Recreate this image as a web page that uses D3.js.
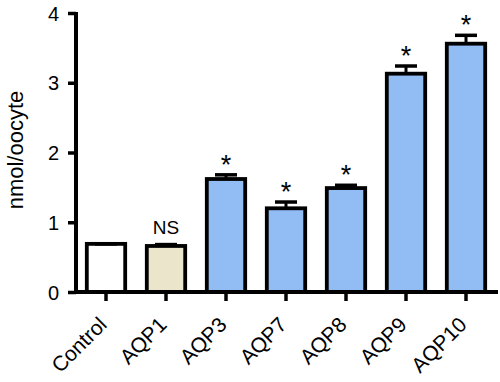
<!DOCTYPE html>
<html><head><meta charset="utf-8">
<script src="https://cdn.jsdelivr.net/npm/d3@7"></script>
<style>body{margin:0;background:#fff}svg{display:block}text{font-family:"Liberation Sans",Arial,sans-serif}</style>
</head><body>
<svg id="c" width="500" height="382"></svg>
<script>
const categories = ["Control","AQP1","AQP3","AQP7","AQP8","AQP9","AQP10"];
const values = [0.69, 0.66, 1.62, 1.20, 1.49, 3.13, 3.56];
const errors = [0.00, 0.02, 0.06, 0.09, 0.04, 0.11, 0.12];
const marks = ["", "NS", "*", "*", "*", "*", "*"];
const fills = ["#ffffff", "#ebe5cc", "#92bdf4", "#92bdf4", "#92bdf4", "#92bdf4", "#92bdf4"];
const yTicks = [0,1,2,3,4];

const svg = d3.select("#c");
const x = d3.scaleBand().domain(categories).range([76,496]).paddingInner(0.36).paddingOuter(0.18);
const y = d3.scaleLinear().domain([0,4]).range([292,13]);

svg.selectAll("rect.bar").data(categories).join("rect").attr("class","bar")
  .attr("x", d=>x(d)).attr("width", x.bandwidth())
  .attr("y", (d,i)=>y(values[i])).attr("height", (d,i)=>y(0)-y(values[i]))
  .attr("fill",(d,i)=>fills[i]).attr("stroke","#000").attr("stroke-width",3.8);

const cx = d=>x(d)+x.bandwidth()/2;
svg.selectAll("line.ev").data(categories).join("line").attr("class","ev")
  .attr("x1",cx).attr("x2",cx)
  .attr("y1",(d,i)=>y(values[i])).attr("y2",(d,i)=>y(values[i]+errors[i]))
  .attr("stroke","#000").attr("stroke-width",3);
svg.selectAll("line.ec").data(categories).join("line").attr("class","ec")
  .attr("x1",d=>cx(d)-11).attr("x2",d=>cx(d)+11)
  .attr("y1",(d,i)=>y(values[i]+errors[i])).attr("y2",(d,i)=>y(values[i]+errors[i]))
  .attr("stroke","#000").attr("stroke-width",3.5);

svg.selectAll("text.mk").data(categories).join("text").attr("class","mk")
  .attr("x",cx)
  .attr("y",(d,i)=> marks[i]==="NS" ? y(values[i]+errors[i])-11 : y(values[i]+errors[i])-1)
  .attr("text-anchor","middle")
  .attr("font-size",(d,i)=> marks[i]==="NS" ? 19 : 27)
  .attr("fill","#000")
  .text((d,i)=>marks[i]);

const yAxis = svg.append("g").attr("transform","translate(76,0)")
  .call(d3.axisLeft(y).tickValues(yTicks).tickSize(8).tickPadding(9).tickFormat(d3.format("d")));
yAxis.select(".domain").attr("d", `M0,${y(4)-1}V${y(0)+2}`).attr("stroke-width",4);
yAxis.selectAll(".tick line").attr("stroke-width",3.5);
yAxis.selectAll("text").attr("font-size",20).attr("fill","#000").attr("dy","0.36em");

const xAxis = svg.append("g").attr("transform",`translate(0,${y(0)})`)
  .call(d3.axisBottom(x).tickSize(9).tickPadding(4));
xAxis.select(".domain").attr("d","M74,0H498").attr("stroke-width",4);
xAxis.selectAll(".tick line").attr("stroke-width",3.5);
xAxis.selectAll("text").attr("font-size",21).attr("fill","#000")
  .attr("text-anchor","end").attr("x",0).attr("y",0).attr("dy","0")
  .attr("transform","translate(2,34) rotate(-45)");

svg.append("text").attr("transform","translate(23,150) rotate(-90)")
  .attr("text-anchor","middle").attr("font-size",22).attr("fill","#000").text("nmol/oocyte");
</script>
</body></html>
